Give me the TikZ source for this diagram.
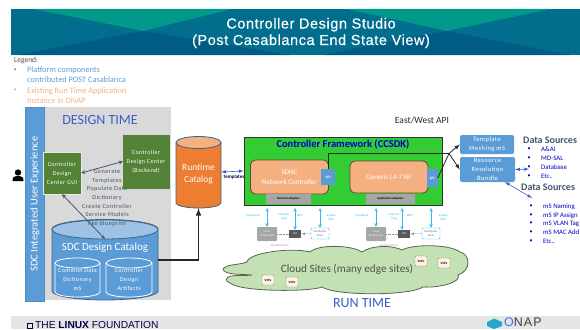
\documentclass[tikz,border=0pt]{standalone}
\usepackage{fontspec}
\usetikzlibrary{shapes.geometric}
\setmainfont{Carlito}
\newfontfamily\widefont[LetterSpace=7]{Carlito}
\newfontfamily\arialfont{Liberation Sans}
\newfontfamily\titlefont[LetterSpace=4,FakeBold=0.3]{Liberation Sans}
\definecolor{sdcblue}{rgb}{0.36,0.61,0.84}
\definecolor{sdclight}{rgb}{0.62,0.76,0.90}
\definecolor{sdcgreen}{rgb}{0.33,0.51,0.21}
\definecolor{peach}{rgb}{0.96,0.69,0.51}
\definecolor{runorange}{rgb}{0.93,0.49,0.19}
\definecolor{fwgreen}{rgb}{0.20,0.80,0.20}
\definecolor{headblue}{rgb}{0.23,0.37,0.78}
\definecolor{slate}{rgb}{0.27,0.33,0.42}
\definecolor{skyline}{rgb}{0.20,0.72,0.93}
\definecolor{cloudgreen}{rgb}{0.77,0.88,0.71}
\definecolor{bannerbase}{rgb}{0.0,0.43,0.55}
\definecolor{bannerdark}{rgb}{0.0,0.36,0.52}
\definecolor{bannerteal}{rgb}{0.0,0.60,0.54}
\begin{document}
\begin{tikzpicture}
    [x=1pt, y=-1pt, >=latex,
    greenbox/.style={fill=sdcgreen, draw=white!85!sdcgreen, text=white, align=center, inner sep=0pt, font=\widefont\fontsize{6}{9}\selectfont},
    bluebox/.style={fill=sdcblue, rounded corners=2pt, text=white, align=center, inner sep=0pt, font=\widefont\fontsize{6.5}{9}\selectfont},
    apibox/.style={fill=sdcblue, text=white, inner sep=0pt, font=\fontsize{3.5}{4}\selectfont\bfseries},
    peachbox/.style={fill=peach, draw=black!60!peach, thick, rounded corners=5pt, text=white, align=center, inner sep=0pt, font=\fontsize{7}{10}\selectfont},
    adapter/.style={fill=black!35, text=black, inner sep=0pt, font=\fontsize{3}{4}\selectfont\bfseries},
    drumbox/.style={inner sep=0pt},
    drumline/.style={draw=black!35!sdcblue, thick},
    innerdrum/.style={draw=white, thick},
    txt/.style={inner sep=0pt, align=center},
    tiny/.style={txt, text=skyline, font=\fontsize{3}{4}\selectfont},
    orch/.style={fill=black!35, text=white, rounded corners=1pt, align=center, inner sep=0pt, minimum width=20pt, minimum height=14pt, font=\fontsize{2.8}{4}\selectfont},
    vmbox/.style={fill=black!65, text=white, inner sep=0pt, minimum width=12pt, minimum height=8pt, font=\fontsize{2.8}{4}\selectfont},
    dbbox/.style={fill=white, draw=skyline, rounded corners=1pt, text=black!60, align=center, inner sep=0pt, minimum width=18pt, minimum height=11pt, font=\fontsize{2.8}{3.5}\selectfont},
    vnf/.style={fill=yellow!10!orange!10!white, draw=black!45, rounded corners=1pt, inner sep=0pt, minimum width=12pt, minimum height=10pt, font=\fontsize{3.2}{4}\selectfont\bfseries},
    skyarrow/.style={<->, skyline, >=stealth, semithick},
    blueline/.style={<->, headblue, semithick}]
    \useasboundingbox (0,0) rectangle (580,329);
    % banner
    \fill[bannerbase] (11,9) rectangle (580,55);
    \fill[bannerteal] (33,9) -- (143,31) -- (232,9) -- cycle;
    \fill[bannerteal] (347,9) -- (447,31) -- (550,9) -- cycle;
    \fill[bannerdark] (18,55) -- (143,31) -- (290,55) -- cycle;
    \fill[bannerdark] (323,55) -- (447,31) -- (570,55) -- cycle;
    \node[txt, text=white, font=\titlefont\fontsize{14.5}{16.5}\selectfont] (title) at (311,33) {Controller Design Studio\\(Post Casablanca End State View)};
    % footer
    \fill[black!10] (11,316) rectangle (580,329);
    \draw[black!80!blue, thick] (27,323.5) rectangle (32,328.5);
    \node[txt, anchor=west, text=black!70!blue, font=\arialfont\fontsize{10.2}{10}\selectfont] (lf) at (35,324.5) {THE \textbf{LINUX} FOUNDATION};
    \fill[skyline!70!teal] (487,322) -- (494,318.5) -- (502,322) -- (502,326) -- (494,329) -- (487,326) -- cycle;
    \node[txt, anchor=west, text=black!75, font=\arialfont\fontsize{12.5}{14}\selectfont\addfontfeatures{LetterSpace=8}] (onap) at (504,322.2) {{\color{sdcblue!70!blue}O}NAP};
    % legend
    \node[txt, anchor=west, text=black!70, font=\fontsize{7.5}{8}\selectfont] (legend) at (14,61) {Legend:};
    \node[txt, text=sdcblue, font=\fontsize{6}{7}\selectfont] (bula) at (15,70) {•};
    \node[txt, anchor=west, text=sdcblue, font=\fontsize{8.3}{10}\selectfont, align=left] (lega) at (27,75) {Platform components\\contributed POST Casablanca};
    \node[txt, text=peach, font=\fontsize{6}{7}\selectfont] (bulb) at (15,90) {•};
    \node[txt, anchor=west, text=peach, font=\fontsize{8.3}{10}\selectfont, align=left] (legb) at (27,95.5) {Existing Run Time Application\\Instance in ONAP};
    % design time
    \node[fill=black!15, minimum width=145pt, minimum height=193pt, inner sep=0pt] (design) at (98,203.5) {};
    \node[fill=sdcblue, draw=black!10!sdcblue, minimum width=19pt, minimum height=194pt, inner sep=0pt] (strip) at (35,204) {};
    \node[txt, text=white, rotate=90, font=\fontsize{10.5}{12}\selectfont] (ux) at (35,204) {SDC Integrated User Experience};
    \node[txt, text=headblue, font=\fontsize{14}{15}\selectfont] (dt) at (100,120) {DESIGN TIME};
    \fill[black] (18,172.5) circle (3.2pt);
    \fill[black] (12.5,181) -- (13,177.5) -- (16,176) -- (20,176) -- (23,177.5) -- (23.5,181) -- cycle;
    \node[greenbox, minimum width=38pt, minimum height=42pt] (gui) at (62,173) {Controller\\Design\\Center GUI};
    \node[greenbox, minimum width=46pt, minimum height=53pt, draw=sdcgreen] (backend) at (146,161.5) {Controller\\Design Center\\(Backend)};
    \draw[<->, slate, thick, >=stealth] (gui.east) -- (backend.west);
    % design catalog
    \node[drumbox, minimum width=106pt, minimum height=80pt] (sdccat) at (105,260) {};
    \draw[drumline, fill=sdcblue] (52,229) -- (52,291) arc[start angle=180, end angle=360, x radius=53pt, y radius=9pt] -- (158,229) arc[start angle=0, end angle=180, x radius=53pt, y radius=9.5pt] -- cycle;
    \draw[drumline, fill=sdclight] (105,229.5) ellipse [x radius=53pt, y radius=9.5pt];
    \coordinate (sdctop) at (105,239);
    \draw[<->, slate, thick, >=stealth] (gui.south) -- (sdctop);
    \node[txt, text=slate, font=\widefont\fontsize{6.2}{8.6}\selectfont] (steps) at (107,198) {Generate\\Templates\\Populate Data\\Dictionary\\Create Controller\\Service Models\\like blueprint};
    \node[txt, text=white, font=\fontsize{11}{12}\selectfont] (sdclabel) at (105,248) {SDC Design Catalog};
    \node[drumbox, minimum width=45pt, minimum height=39pt] (common) at (77.5,278) {};
    \draw[innerdrum] (55,263) -- (55,292) arc[start angle=180, end angle=360, x radius=22.5pt, y radius=5pt] -- (100,263);
    \draw[innerdrum] (77.5,263) ellipse [x radius=22.5pt, y radius=5pt];
    \node[drumbox, minimum width=46pt, minimum height=39pt] (artifacts) at (129,278) {};
    \draw[innerdrum] (106,263) -- (106,292) arc[start angle=180, end angle=360, x radius=23pt, y radius=5pt] -- (152,263);
    \draw[innerdrum] (129,263) ellipse [x radius=23pt, y radius=5pt];
    \node[txt, text=white, font=\widefont\fontsize{6}{9}\selectfont] (commonlabel) at (77.5,280) {Common Data\\Dictionary\\mS};
    \node[txt, text=white, font=\widefont\fontsize{6}{9}\selectfont] (artlabel) at (129,279) {Controller\\Design\\Artifacts};
    % runtime catalog
    \node[drumbox, minimum width=45pt, minimum height=72pt] (runtime) at (198.5,172) {};
    \draw[drumline, fill=runorange] (176,143) -- (176,203) arc[start angle=180, end angle=360, x radius=22.5pt, y radius=5pt] -- (221,143) arc[start angle=0, end angle=180, x radius=22.5pt, y radius=6pt] -- cycle;
    \draw[drumline, fill=peach] (198.5,142.5) ellipse [x radius=22.5pt, y radius=6pt];
    \node[txt, text=white, font=\fontsize{9.5}{11.5}\selectfont] (rtlabel) at (198.5,174) {Runtime\\Catalog};
    \draw[->, black!85, line width=1.5pt] (sdccat.east) -| (runtime.south);
    % controller framework
    \node[fill=fwgreen, draw=black!80, thick, minimum width=198pt, minimum height=68pt, inner sep=0pt] (framework) at (343,171) {};
    \node[txt, text=blue!80!black, font=\fontsize{10.5}{12}\selectfont\bfseries] (fwlabel) at (343,144) {Controller Framework (CCSDK)};
    \draw[blueline] (runtime.east) -- (framework.west);
    \node[txt, text=black!70!blue, font=\fontsize{5}{6}\selectfont\bfseries] (tpl) at (234,177) {templates};
    \node[peachbox, minimum width=78pt, minimum height=34pt] (sdnc) at (289.5,177) {SDNC\\Network Controller};
    \node[adapter, minimum width=45pt, minimum height=10pt] (netad) at (288.5,199) {Network Adapters};
    \node[apibox, minimum width=14pt, minimum height=16pt] (apia) at (328,177) {API};
    \node[peachbox, minimum width=78pt, minimum height=32pt] (generic) at (389,177) {Generic L4-7 NF};
    \node[adapter, minimum width=49pt, minimum height=10pt] (appad) at (390.5,199) {Application Adapters};
    \node[apibox, minimum width=11pt, minimum height=18pt] (apib) at (432,178) {API};
    % east west
    \node[txt, text=black!85, font=\fontsize{9.5}{11}\selectfont] (ew) at (422,120) {East/West API};
    \node[bluebox, minimum width=54pt, minimum height=19pt] (mesh) at (487,144.5) {Template\\Meshing mS};
    \node[bluebox, minimum width=55pt, minimum height=25pt] (bundle) at (487.5,169.5) {Resource\\Resolution\\Bundle};
    \coordinate (join) at (449,153.5);
    \draw[black!85, thick] (apia.north) |- (join);
    \draw[black!85, thick] (apib.east) -- (join);
    \draw[->, black!85, thick] (join) -- (mesh.west);
    \draw[->, black!85, thick] (join) -- (bundle.west);
    % data sources
    \node[txt, anchor=west, text=slate, font=\fontsize{10}{11}\selectfont\bfseries] (dsa) at (523,140) {Data Sources};
    \node[txt, anchor=west, text=blue!75!black, font=\fontsize{6.8}{8.9}\selectfont, align=left] (dsalist) at (541,162.5) {A\&AI\\MD-SAL\\Database\\Etc..};
    \node[txt, anchor=west, text=blue!75!black, font=\fontsize{6}{8.9}\selectfont, align=left] (dsabul) at (527.5,162.5) {•\\•\\•\\•};
    \coordinate (dsaend) at (529,169);
    \draw[blueline] (bundle.east) -- (dsaend);
    \node[txt, anchor=west, text=slate, font=\fontsize{10}{11}\selectfont\bfseries] (dsb) at (521,187) {Data Sources};
    \coordinate (dsbend) at (532,198);
    \coordinate (bundlefoot) at (505,182);
    \draw[blueline] (bundlefoot) -- (dsbend);
    \node[txt, anchor=west, text=blue!75!black, font=\fontsize{6.8}{8.7}\selectfont, align=left] (dsblist) at (543,223.5) {mS Naming\\mS IP Assign\\mS VLAN Tag\\mS MAC Add\\Etc..};
    \node[txt, anchor=west, text=blue!75!black, font=\fontsize{6}{8.7}\selectfont, align=left] (dsbbul) at (529.5,223.5) {•\\•\\•\\•\\•};
    % cloud platform, first
    \node[orch] (orcha) at (267,234) {Cloud\\Orchestrator};
    \node[vmbox] (vma) at (295,234) {VM};
    \node[dbbox] (dba) at (320,233.5) {Dat/Border\\Sever};
    \draw[densely dotted, black!40] (orcha) -- (vma);
    \draw[->, black!40] (dba) -- (vma);
    \coordinate (topa) at (267,208);
    \coordinate (topb) at (295,208);
    \coordinate (topc) at (320,208);
    \draw[skyarrow] (topa) -- (orcha.north);
    \draw[skyarrow] (topb) -- (vma.north);
    \draw[skyarrow] (topc) -- (dba.north);
    \node[tiny] (osa) at (253,216) {OpenStack};
    \node[tiny] (nca) at (284,217) {Netconf/\\Yang};
    \node[tiny] (rsa) at (300,216) {REST};
    \node[tiny] (ana) at (331,217) {Ansible\\Chef};
    \node[tiny, text=black!40] (cpa) at (280,245) {Cloud Platform};
    % cloud platform, second
    \node[orch] (orchb) at (376,234) {Cloud\\Orchestrator};
    \node[vmbox] (vmb) at (404,234) {VM};
    \node[dbbox] (dbb) at (431,233.5) {Dat/Border\\Sever};
    \draw[densely dotted, black!40] (orchb) -- (vmb);
    \draw[->, black!40] (dbb) -- (vmb);
    \coordinate (topd) at (376,208);
    \coordinate (tope) at (402,208);
    \coordinate (topf) at (431,208);
    \draw[skyarrow] (topd) -- (orchb.north);
    \draw[skyarrow] (tope) -- (vmb.north -| tope);
    \draw[skyarrow] (topf) -- (dbb.north);
    \node[tiny] (osb) at (362,216) {OpenStack};
    \node[tiny] (ncb) at (394,217) {Netconf/\\Yang};
    \node[tiny] (rsb) at (410,216) {REST};
    \node[tiny] (anb) at (443,217) {Ansible\\Chef};
    \node[tiny, text=black!40] (cpb) at (389,245) {Cloud Platform};
    % cloud sites
    \draw[fill=cloudgreen, draw=black!55!cloudgreen, thick]
        (223,269) .. controls (226,264) and (240,265) .. (247,262)
        .. controls (248,253) and (290,247) .. (310,252)
        .. controls (318,244) and (352,245) .. (362,252)
        .. controls (372,245) and (392,245) .. (402,250)
        .. controls (412,244) and (450,244) .. (460,252)
        .. controls (470,254) and (472,270) .. (458,275)
        .. controls (462,282) and (440,288) .. (423,287)
        .. controls (410,296) and (335,296) .. (322,287)
        .. controls (310,292) and (240,292) .. (230,283)
        .. controls (224,281) and (226,277) .. (231,276)
        .. controls (238,275) and (245,276) .. (252,275)
        .. controls (240,274) and (224,275) .. (223,269) -- cycle;
    \node[txt, text=black!25!cloudgreen!50!black, font=\fontsize{11.2}{12}\selectfont] (sites) at (347,269) {Cloud Sites (many edge sites)};
    \node[vnf] (vnfa) at (268,280) {VNFs};
    \node[vnf] (vnfb) at (292,282) {VNFs};
    \node[vnf] (vnfc) at (421,261) {VNFs};
    \node[vnf] (vnfd) at (444,263) {VNFs};
    \node[txt, text=headblue, font=\fontsize{14}{15}\selectfont] (rt) at (362,303) {RUN TIME};
\end{tikzpicture}
\end{document}
